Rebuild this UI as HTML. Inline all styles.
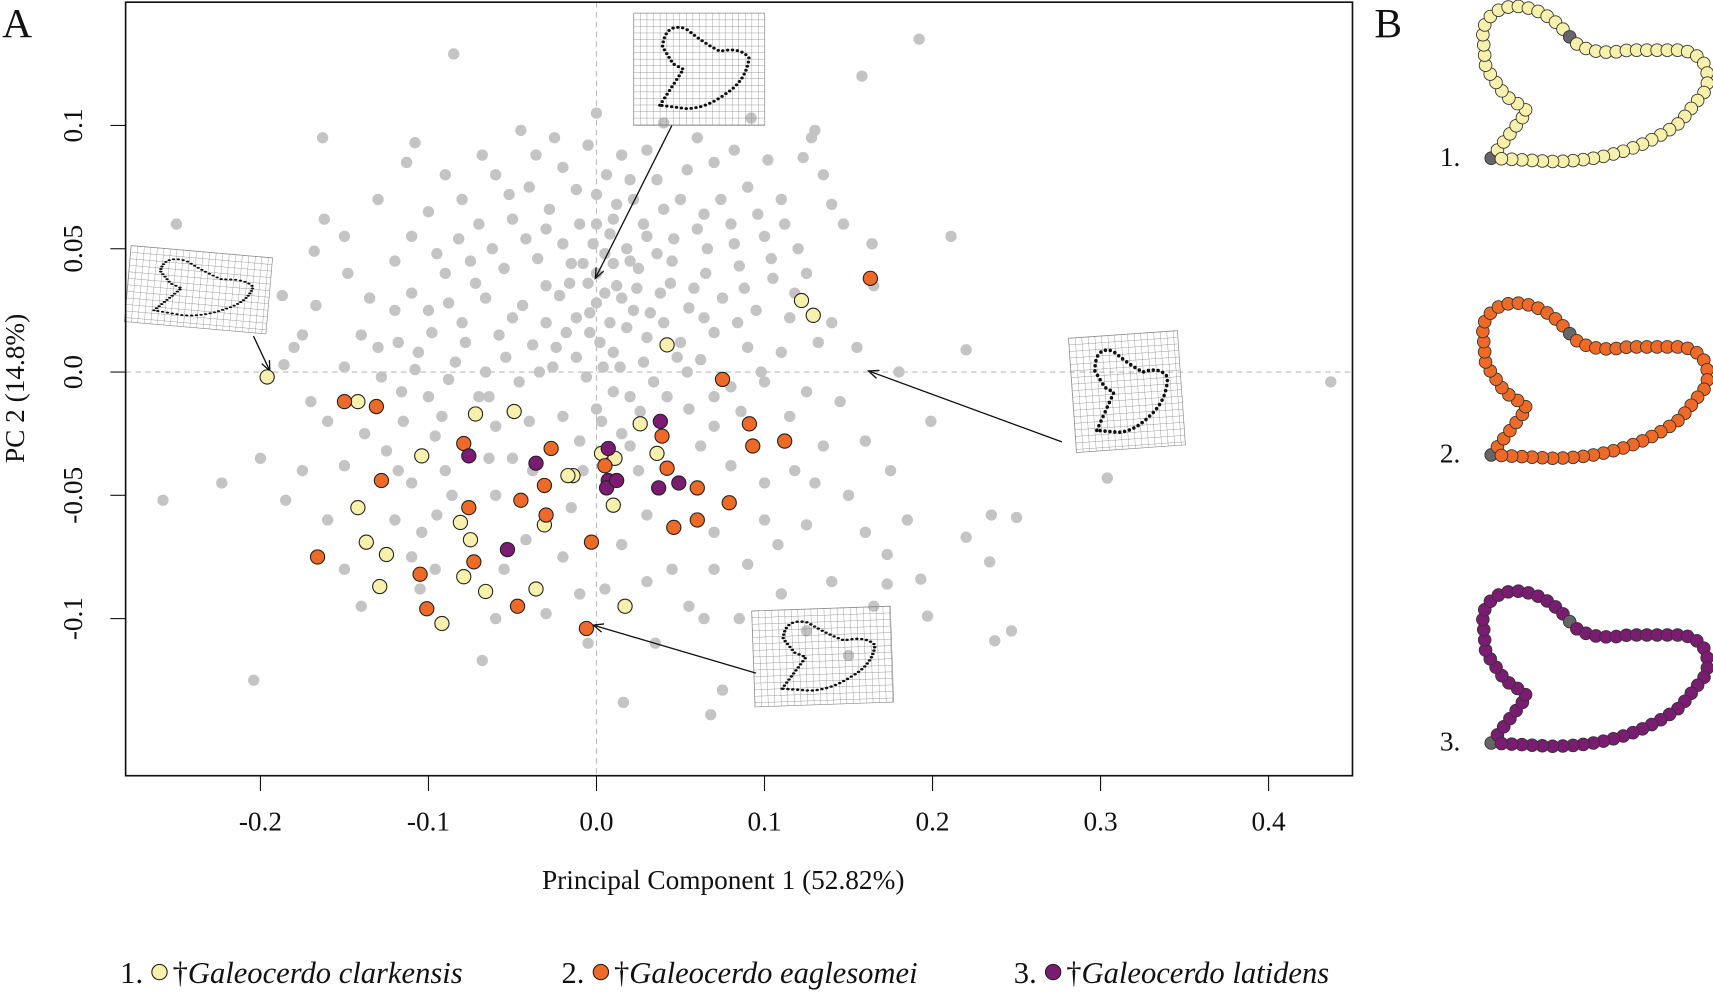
<!DOCTYPE html>
<html><head><meta charset="utf-8"><style>
html,body{margin:0;padding:0;background:#fff;}
svg{display:block;}
text{font-family:"Liberation Serif",serif;fill:#111;}
</style></head><body>
<svg id="chart" width="1713" height="995" viewBox="0 0 1568 912" preserveAspectRatio="none" xmlns="http://www.w3.org/2000/svg">
<defs>
<pattern id="grid" width="6" height="6" patternUnits="userSpaceOnUse"><path d="M6 0H0V6" fill="none" stroke="#777" stroke-width="0.6"/></pattern>
</defs>
<text x="2" y="34" font-size="38">A</text>
<text x="1258" y="34" font-size="38">B</text>
<g id="plot"></g>
<g id="panelB"></g>
<g id="legend"></g>
</svg>
<script>
const xTicks=[-0.2,-0.1,0.0,0.1,0.2,0.3,0.4];
const yTicks=[0.1,0.05,0.0,-0.05,-0.1];
const yTickLabels=["0.1","0.05","0.0","-0.05","-0.1"];
const clarkensis=[[-0.196,-0.002],[-0.142,-0.012],[-0.072,-0.017],[-0.104,-0.034],[-0.142,-0.055],[-0.049,-0.016],[-0.081,-0.061],[-0.137,-0.069],[-0.075,-0.068],[-0.125,-0.074],[-0.079,-0.083],[-0.129,-0.087],[-0.066,-0.089],[-0.036,-0.088],[-0.092,-0.102],[0.017,-0.095],[-0.014,-0.042],[0.011,-0.035],[0.036,-0.033],[0.026,-0.021],[-0.031,-0.062],[0.010,-0.054],[0.042,0.011],[0.122,0.029],[0.129,0.023],[-0.017,-0.042],[0.003,-0.033]];
const eaglesomei=[[-0.150,-0.012],[-0.131,-0.014],[-0.079,-0.029],[-0.128,-0.044],[-0.076,-0.055],[-0.166,-0.075],[-0.105,-0.082],[-0.073,-0.077],[-0.101,-0.096],[-0.047,-0.095],[-0.006,-0.104],[-0.003,-0.069],[-0.030,-0.058],[-0.031,-0.046],[-0.027,-0.031],[-0.045,-0.052],[0.005,-0.038],[0.039,-0.026],[0.042,-0.039],[0.060,-0.047],[0.060,-0.060],[0.046,-0.063],[0.079,-0.053],[0.075,-0.003],[0.091,-0.021],[0.093,-0.030],[0.112,-0.028],[0.163,0.038]];
const latidens=[[-0.076,-0.034],[-0.036,-0.037],[-0.053,-0.072],[0.007,-0.031],[0.007,-0.044],[0.006,-0.047],[0.012,-0.044],[0.038,-0.020],[0.037,-0.047],[0.049,-0.045]];
const grayPts=[[-0.085,0.129],[0.192,0.135],[0.158,0.120],[0.130,0.098],[0.128,0.095],[0.040,0.101],[-0.163,0.095],[-0.108,0.093],[-0.113,0.085],[-0.250,0.060],[-0.162,0.062],[-0.168,0.049],[-0.187,0.031],[-0.167,0.027],[-0.180,0.010],[-0.186,0.003],[-0.258,-0.052],[-0.223,-0.045],[-0.204,-0.125],[0.211,0.055],[0.220,0.009],[0.437,-0.004],[0.304,-0.043],[0.199,-0.020],[0.220,-0.067],[0.250,-0.059],[0.235,-0.058],[0.234,-0.077],[0.247,-0.105],[0.237,-0.109],[0.197,-0.099],[0.193,-0.084],[0.173,-0.086],[0.173,-0.074],[0.150,-0.115],[0.075,-0.129],[0.016,-0.134],[0.068,-0.139],[-0.068,-0.117],[0.164,0.052],[0.165,0.035],[0.147,0.060],[0.135,0.080],[0.123,0.087],[0.092,0.103],
[-0.060,0.080],[-0.040,0.075],[-0.020,0.083],[0.000,0.072],[0.020,0.078],[0.050,0.070],[0.070,0.085],[0.090,0.075],[0.110,0.070],[-0.080,0.070],[-0.100,0.065],[-0.070,0.060],[-0.050,0.062],[-0.030,0.058],[-0.010,0.060],[0.010,0.062],[0.030,0.055],[0.060,0.058],[0.080,0.060],[0.100,0.055],[0.120,0.050],[-0.120,0.045],[-0.095,0.048],[-0.075,0.045],[-0.055,0.042],[-0.035,0.046],[-0.015,0.044],[0.005,0.048],[0.025,0.042],[0.045,0.045],[0.065,0.040],[0.085,0.043],[0.105,0.038],[0.125,0.040],[-0.135,0.030],[-0.110,0.032],[-0.088,0.028],[-0.066,0.030],[-0.044,0.027],[-0.022,0.031],[0.000,0.028],[0.012,0.035],[0.022,0.025],[0.038,0.032],[0.055,0.026],[0.075,0.030],[0.095,0.025],[0.115,0.022],[0.140,0.020],[-0.140,0.015],[-0.118,0.012],[-0.098,0.016],[-0.078,0.012],[-0.058,0.015],[-0.038,0.011],[-0.018,0.016],[0.002,0.012],[0.008,0.020],[0.030,0.014],[0.050,0.012],[0.070,0.016],[0.090,0.010],[0.110,0.008],[-0.150,0.002],[-0.128,-0.002],[-0.108,0.001],[-0.088,-0.003],[-0.066,0.000],[-0.046,-0.004],[-0.026,0.002],[-0.006,-0.002],[0.014,0.002],[0.034,-0.004],[0.054,0.000],[0.080,-0.006],[0.100,-0.004],[0.125,-0.008],[0.145,-0.012],[-0.160,-0.020],[-0.138,-0.025],[-0.115,-0.020],[-0.092,-0.018],[-0.060,-0.022],[-0.040,-0.020],[-0.020,-0.018],[0.000,-0.015],[0.020,-0.010],[0.055,-0.015],[0.070,-0.022],[0.115,-0.018],[0.135,-0.030],[0.160,-0.028],[-0.175,-0.040],[-0.150,-0.038],[-0.110,-0.045],[-0.090,-0.040],[-0.050,-0.035],[-0.010,-0.028],[0.025,-0.040],[0.080,-0.038],[0.100,-0.045],[0.130,-0.045],[0.150,-0.050],[-0.185,-0.052],[-0.160,-0.060],[-0.120,-0.060],[-0.095,-0.058],[-0.060,-0.050],[-0.015,-0.055],[0.030,-0.058],[0.070,-0.065],[0.100,-0.060],[0.125,-0.062],[0.160,-0.065],[-0.150,-0.080],[-0.110,-0.075],[-0.055,-0.080],[-0.020,-0.075],[0.015,-0.070],[0.045,-0.080],[0.090,-0.078],[0.110,-0.090],[0.140,-0.085],[0.165,-0.095],[-0.140,-0.095],[-0.105,-0.088],[-0.060,-0.100],[-0.030,-0.098],[0.005,-0.088],[0.055,-0.095],[0.085,-0.100],[0.125,-0.105],[-0.005,-0.110],[0.035,-0.110],[-0.025,0.095],[0.000,0.105],[0.015,0.088],[-0.005,0.092],[0.060,0.095],[-0.130,0.070],[-0.150,0.055],[0.140,0.068],[0.155,0.010],[-0.045,0.098],[0.030,0.090],[0.000,0.040],[0.005,0.032],[-0.005,0.036],[0.015,0.030],[0.020,0.045],[-0.012,0.022],[0.010,0.008],[0.028,0.004],[0.040,0.020],[-0.030,0.035],[0.062,0.005],[0.003,-0.020],[0.015,-0.025],[-0.070,-0.010],[-0.100,-0.010],[-0.125,-0.032],[0.175,-0.040],[0.185,-0.060],[0.180,0.000],[-0.200,-0.035],
[-0.002,0.052],[0.008,0.056],[0.018,0.050],[-0.008,0.044],[0.028,0.060],[0.036,0.048],[0.046,0.054],[-0.020,0.052],[-0.028,0.066],[-0.042,0.054],[-0.052,0.072],[-0.062,0.050],[-0.072,0.036],[-0.082,0.054],[-0.090,0.040],[-0.100,0.025],[-0.110,0.055],[-0.080,0.020],[-0.050,0.022],[-0.030,0.020],[-0.012,0.006],[0.004,0.002],[0.018,0.018],[0.024,0.034],[0.032,0.024],[0.044,0.036],[0.048,0.006],[0.058,0.034],[0.066,0.050],[0.074,0.070],[0.082,0.052],[0.088,0.034],[0.096,0.064],[0.104,0.046],[0.112,0.060],[0.084,0.020],[0.064,0.022],[0.042,-0.010],[0.026,-0.016],[0.010,-0.008],[-0.004,0.016],[-0.016,0.036],[-0.024,0.010],[-0.034,0.000],[-0.054,0.006],[-0.064,-0.010],[-0.084,0.004],[-0.096,-0.026],[-0.106,0.008],[-0.120,0.025],[-0.130,0.010],[-0.116,-0.008],[0.012,0.068],[0.022,0.070],[-0.012,0.074],[0.040,0.066],[0.054,0.082],[0.064,0.064],[-0.036,0.088],[-0.068,0.088],[0.006,0.080],[0.036,0.078],[0.102,0.086],[0.082,0.090],[-0.090,0.080],[0.118,0.032],[0.132,0.012],[0.098,0.000],[0.070,-0.010],[0.086,-0.016],[0.062,-0.030],[0.020,-0.030],[-0.008,-0.040],[-0.038,-0.040],[-0.064,-0.035],[-0.086,-0.050],[-0.104,-0.065],[-0.118,-0.040],[-0.096,-0.080],[-0.042,-0.068],[-0.010,-0.090],[0.030,-0.085],[0.070,-0.080],[0.064,-0.100],[0.108,-0.070],[0.118,-0.040],[-0.170,-0.012],[-0.175,0.015],[-0.148,0.040],[0.000,0.060],[0.010,0.044],[-0.004,0.024]];

const NS="http://www.w3.org/2000/svg";
const L=115,R=1238,T=2,B=711;
const xs=v=>546+v*1538, ys=v=>341-v*2260;
const plot=document.getElementById('plot');
function mk(tag,attrs,parent){const e=document.createElementNS(NS,tag);for(const k in attrs)e.setAttribute(k,attrs[k]);(parent||plot).appendChild(e);return e;}

let e=mk('line',{x1:xs(0),x2:xs(0),y1:T,y2:B,stroke:'#bbb','stroke-dasharray':'5 4','stroke-width':1});


e=mk('line',{x1:L,x2:R,y1:ys(0),y2:ys(0),stroke:'#bbb','stroke-dasharray':'5 4','stroke-width':1});



grayPts.forEach(p=>{const c=mk('circle',{cx:xs(p[0]),cy:ys(p[1]),r:5.2,fill:'#c4c4c4'});

});

const shapeD="M20,82 L38,50 L30,45 L22,30 Q24,8 40,14 Q55,28 66,34 Q82,30 88,40 Q86,60 70,72 Q55,85 40,85 Z";
function inset(tx,ty,w,h,rot,name){
 const g=mk('g',{transform:`translate(${tx},${ty}) rotate(${rot})`});
 
 
 mk('rect',{x:0,y:0,width:w,height:h,fill:'url(#grid)',stroke:'#888','stroke-width':0.6},g);
 mk('path',{d:shapeD,transform:`scale(${w/100},${h/100})`,fill:'none',stroke:'#111','stroke-width':3.2*100/w,'stroke-linecap':'round','stroke-dasharray':`0 ${4.5*100/w}`},g);
}
inset(580,12,120,103,0,'shape-inset-top');
inset(120,225,130,70,5,'shape-inset-left');
inset(978,310,100,105,-4,'shape-inset-right');
inset(688,560,127,88,-2,'shape-inset-bottom');
function arrow(x1,y1,x2,y2,name){
 const a=mk('line',{x1,y1,x2,y2,stroke:'#111','stroke-width':1.2});
 
 
 const ang=Math.atan2(y2-y1,x2-x1),s=10;
 mk('polyline',{points:`${x2-s*Math.cos(ang-0.4)},${y2-s*Math.sin(ang-0.4)} ${x2},${y2} ${x2-s*Math.cos(ang+0.4)},${y2-s*Math.sin(ang+0.4)}`,fill:'none',stroke:'#111','stroke-width':1.2});
}
arrow(615,115,545,255,'arrow-top');
arrow(232,308,247,340,'arrow-left');
arrow(972,405,795,340,'arrow-right');
arrow(692,617,543,573,'arrow-bottom');

function series(arr,col,name){arr.forEach(p=>{const c=mk('circle',{cx:xs(p[0]),cy:ys(p[1]),r:6.5,fill:col,stroke:'#222','stroke-width':1});

});}
series(clarkensis,'#f8f1ac','clarkensis-point');
series(eaglesomei,'#ee6a26','eaglesomei-point');
series(latidens,'#7b1c72','latidens-point');

e=mk('rect',{x:L,y:T,width:R-L,height:B-T,fill:'none',stroke:'#111','stroke-width':1.5});


xTicks.forEach(v=>{mk('line',{x1:xs(v),x2:xs(v),y1:B,y2:B+14,stroke:'#111','stroke-width':1});
 const t=mk('text',{x:xs(v),y:B+50,'font-size':25,'text-anchor':'middle'});t.textContent=v.toFixed(1);
 
 });
yTicks.forEach((v,i)=>{mk('line',{x1:L-14,x2:L,y1:ys(v),y2:ys(v),stroke:'#111','stroke-width':1});
 const t=mk('text',{x:0,y:0,'font-size':25,'text-anchor':'middle',transform:`translate(${L-40},${ys(v)}) rotate(-90)`});t.textContent=yTickLabels[i];
 
 });
e=mk('text',{x:662,y:815,'font-size':25,'text-anchor':'middle'});e.textContent='Principal Component 1 (52.82%)';


e=mk('text',{x:0,y:0,'font-size':25,'text-anchor':'middle',transform:'translate(22,356) rotate(-90)'});e.textContent='PC 2 (14.8%)';



const pb=document.getElementById('panelB');
const outlineD="M1365,145 L1398,102 Q1390,95 1378,88 L1360,62 L1357,28 Q1365,4 1392,6 Q1420,10 1440,38 Q1458,52 1490,46 L1540,46 Q1568,52 1562,82 L1538,112 Q1490,148 1420,148 Z";
const outlines=[{dy:0,col:'#f8f1ac',name:'outline-clarkensis',lab:'1.'},{dy:272,col:'#ee6a26',name:'outline-eaglesomei',lab:'2.'},{dy:536,col:'#7b1c72',name:'outline-latidens',lab:'3.'}];
outlines.forEach(o=>{
 const g=mk('g',{transform:`translate(0,${o.dy})`},pb);
 
 
 const p=mk('path',{d:outlineD,fill:'none',stroke:'none'},g);
 const len=p.getTotalLength(),n=66;
 for(let i=0;i<n;i++){const q=p.getPointAtLength(len*i/n);
  mk('circle',{cx:q.x,cy:q.y,r:5.8,fill:(i===0||i===26)?'#666':o.col,stroke:'#333','stroke-width':0.8},g);}
 const t=mk('text',{x:1318,y:152,'font-size':25},g);t.textContent=o.lab;
});

const lg=document.getElementById('legend');
const items=[{x:110,col:'#f8f1ac',lab:'1.',name:'Galeocerdo clarkensis'},{x:514,col:'#ee6a26',lab:'2.',name:'Galeocerdo eaglesomei'},{x:928,col:'#7b1c72',lab:'3.',name:'Galeocerdo latidens'}];
items.forEach(it=>{
 const g=mk('g',{},lg);
 
 
 const t1=mk('text',{x:it.x,y:901,'font-size':28},g);t1.textContent=it.lab;
 mk('circle',{cx:it.x+36,cy:891,r:7,fill:it.col,stroke:'#222','stroke-width':1},g);
 const t2=mk('text',{x:it.x+48,y:901,'font-size':28},g);
 t2.innerHTML='†<tspan font-style="italic">'+it.name+'</tspan>';
});
</script>
</body></html>
